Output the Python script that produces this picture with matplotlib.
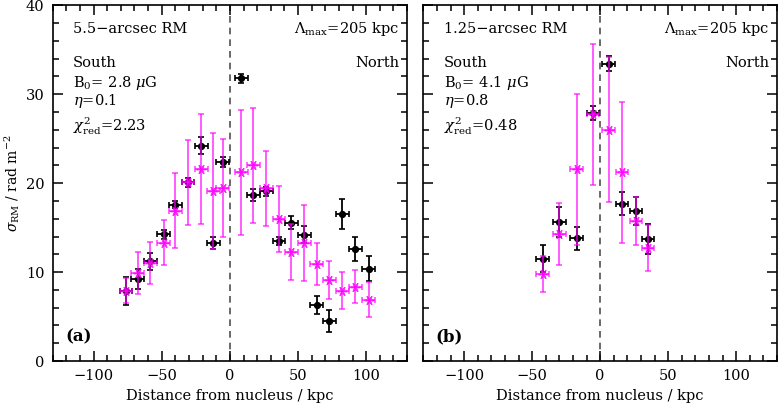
import matplotlib
matplotlib.use("Agg")
import matplotlib.pyplot as plt
from matplotlib.ticker import MultipleLocator

plt.rcParams['font.family'] = ['DejaVu Serif']
plt.rcParams['mathtext.fontset'] = 'dejavuserif'

# ---------------- data: panel (a) 5.5-arcsec RM ----------------
a_x = [-76.2, -67.5, -58.5, -48.5, -40.0, -30.7, -21.0, -12.2, -5.4,
       8.5, 17.3, 26.8, 36.1, 45.1, 54.6, 63.6, 73.1, 82.6, 91.9, 101.8]
a_obs = [7.9, 9.2, 11.2, 14.25, 17.6, 20.1, 24.2, 13.3, 22.35,
         31.8, 18.7, 19.1, 13.5, 15.55, 14.2, 6.26, 4.5, 16.5, 12.6, 10.4]
a_obs_err = [1.6, 1.15, 0.95, 0.5, 0.4, 0.5, 0.95, 0.7, 0.55,
             0.5, 0.65, 0.5, 0.5, 0.75, 0.95, 1.0, 1.2, 1.7, 1.4, 1.4]
a_sim = [7.9, 9.9, 11.0, 13.3, 16.9, 20.1, 21.6, 19.1, 19.5,
         21.2, 22.0, 19.4, 16.0, 12.26, 13.3, 10.9, 9.1, 7.9, 8.36, 6.9]
a_sim_err = [1.4, 2.4, 2.35, 2.55, 4.2, 4.75, 6.15, 6.5, 5.5,
             7.07, 6.45, 4.2, 3.7, 3.1, 4.3, 2.35, 2.15, 2.1, 1.85, 1.95]

# ---------------- data: panel (b) 1.25-arcsec RM ----------------
b_x = [-42.3, -30.0, -17.1, -5.2, 6.2, 16.1, 26.4, 35.2]
b_obs = [11.5, 15.65, 13.8, 27.85, 33.45, 17.7, 16.84, 13.76]
b_obs_err = [1.5, 1.65, 1.3, 0.8, 0.8, 1.3, 1.55, 1.7]
b_sim = [9.8, 14.3, 21.55, 27.75, 26.0, 21.2, 15.7, 12.7]
b_sim_err = [2.0, 3.45, 8.45, 7.95, 8.15, 7.9, 2.7, 2.55]

xbin_half = 4.7

panel_texts = {
    'a': dict(title='5.5\u2212arcsec RM', B='B$_0$= 2.8 $\\mu$G', eta='$\\eta$=0.1', chi='$\\chi^2_{\\rm red}$=2.23'),
    'b': dict(title='1.25\u2212arcsec RM', B='B$_0$= 4.1 $\\mu$G', eta='$\\eta$=0.8', chi='$\\chi^2_{\\rm red}$=0.48'),
}

fig = plt.figure(figsize=(7.79, 4.03), dpi=100)
ax1 = fig.add_axes([0.0677, 0.1042, 0.4548, 0.8826])
ax2 = fig.add_axes([0.5434, 0.1042, 0.4540, 0.8826])

FS = 10.5
MAG = '#ff00ff'


def draw(ax, key, x, obs, obs_err, sim, sim_err, show_y):
    ax.errorbar(x, obs, yerr=obs_err, xerr=xbin_half, fmt='o', color='black',
                ms=4.2, elinewidth=1.3, capsize=2.3, capthick=1.2, zorder=3)
    ax.errorbar(x, sim, yerr=sim_err, xerr=xbin_half, fmt='none', ecolor=MAG,
                elinewidth=1.2, capsize=2.5, capthick=1.1, alpha=0.75, zorder=4)
    ax.plot(x, sim, ls='none', marker=(6, 2, 90), ms=7, mec=MAG, mew=1.0,
            alpha=0.85, zorder=5)
    ax.axvline(0, color='#505050', lw=1.2, ls=(0, (4, 3)), zorder=1)
    ax.set_xlim(-130, 130)
    ax.set_ylim(0, 40)
    ax.xaxis.set_major_locator(MultipleLocator(50))
    ax.xaxis.set_minor_locator(MultipleLocator(10))
    ax.yaxis.set_major_locator(MultipleLocator(10))
    ax.yaxis.set_minor_locator(MultipleLocator(2))
    ax.tick_params(which='both', direction='in', top=True, right=True,
                   labelsize=FS, width=1.1, pad=6)
    ax.tick_params(which='major', length=7.5)
    ax.tick_params(which='minor', length=4)
    for s in ax.spines.values():
        s.set_linewidth(1.2)
    ax.set_xticks([-100, -50, 0, 50, 100])
    ax.set_xticklabels(['\u2212100', '\u221250', '0', '50', '100'])
    if not show_y:
        ax.set_yticklabels([])
    ax.set_xlabel('Distance from nucleus / kpc', fontsize=FS, labelpad=4)
    t = panel_texts[key]
    ax.text(-115, 37.35, t['title'], fontsize=FS, va='center', ha='left')
    ax.text(-115, 33.5, 'South', fontsize=FS, va='center', ha='left')
    ax.text(-115, 31.3, t['B'], fontsize=FS, va='center', ha='left')
    ax.text(-115, 29.2, t['eta'], fontsize=FS, va='center', ha='left')
    ax.text(-115, 26.4, t['chi'], fontsize=FS, va='center', ha='left')
    ax.text(124.5, 37.35, '$\\Lambda_{\\rm max}$=205 kpc', fontsize=FS, va='center', ha='right')
    ax.text(124.5, 33.5, 'North', fontsize=FS, va='center', ha='right')
    ax.text(-121, 2.7, '(%s)' % key, fontsize=FS + 1.5, fontweight='bold', va='center', ha='left')


draw(ax1, 'a', a_x, a_obs, a_obs_err, a_sim, a_sim_err, True)
draw(ax2, 'b', b_x, b_obs, b_obs_err, b_sim, b_sim_err, False)
ax1.set_ylabel('$\\sigma_{\\rm RM}$ / rad m$^{-2}$', fontsize=10)
ax1.yaxis.set_label_coords(-0.086, 0.5)

fig.savefig('out.png', dpi=100)
